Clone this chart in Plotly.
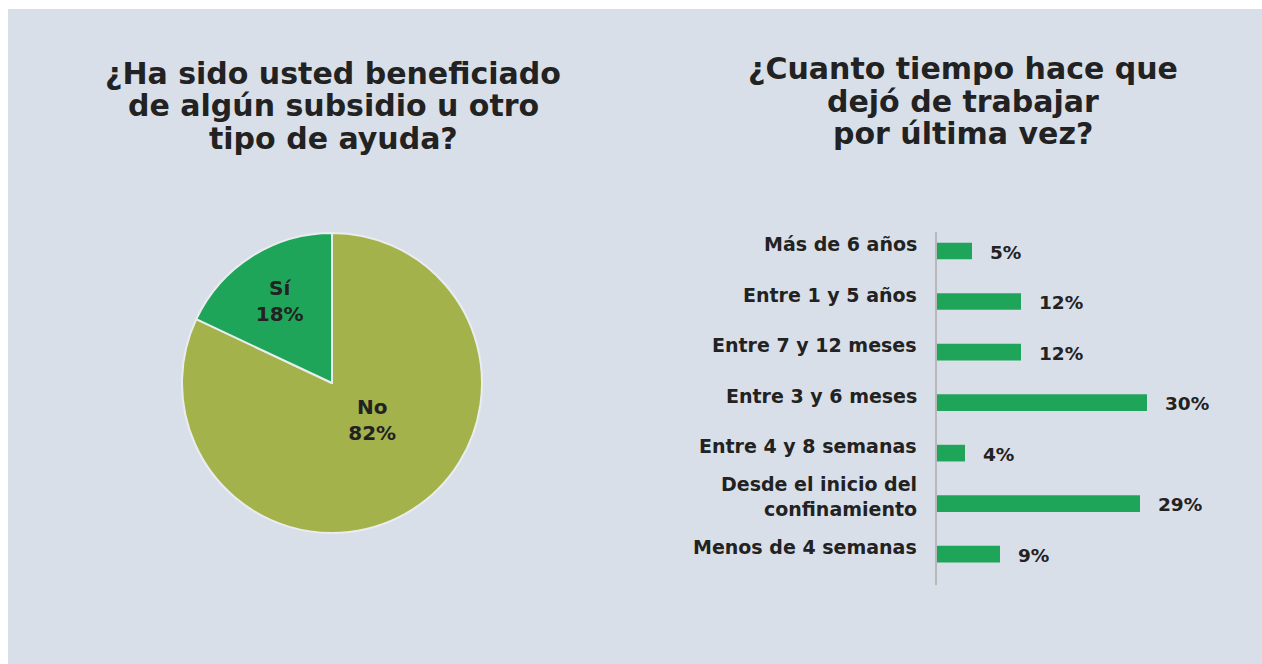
import plotly.graph_objects as go

W, H = 1262, 664

# ---- data ----
pie_labels = ["No", "Sí"]
pie_values = [82, 18]
pie_colors = ["#a3b24a", "#1fa55a"]

bar_categories = [
    "Más de 6 años",
    "Entre 1 y 5 años",
    "Entre 7 y 12 meses",
    "Entre 3 y 6 meses",
    "Entre 4 y 8 semanas",
    "Desde el inicio del<br>confinamiento",
    "Menos de 4 semanas",
]
bar_values = [5, 12, 12, 30, 4, 29, 9]

title_left = ["¿Ha sido usted beneficiado", "de algún subsidio u otro", "tipo de ayuda?"]
title_right = ["¿Cuanto tiempo hace que", "dejó de trabajar", "por última vez?"]

FONT = "DejaVu Sans"
TXT = "#222222"
BG = "#d9dfe8"

def px_x(x):
    return x / W

def px_y(y):
    return 1 - y / H

fig = go.Figure()

# pie
cx, cy, r = 332, 383, 150
fig.add_trace(go.Pie(
    labels=pie_labels, values=pie_values, sort=False, direction="clockwise", rotation=0,
    marker=dict(colors=pie_colors, line=dict(color="#e9edf0", width=2)),
    texttemplate=["<b>%{label}<br>%{percent:.0%}</b><br> <br> ", "<b>%{label}<br>%{percent:.0%}</b>"],
    insidetextorientation="horizontal", textposition="inside",
    textfont=dict(family=FONT, size=20, color=TXT),
    domain=dict(x=[px_x(cx - r), px_x(cx + r)], y=[px_y(cy + r), px_y(cy - r)]),
    showlegend=False, hoverinfo="label+percent",
))

# bars
fig.add_trace(go.Bar(
    x=bar_values, y=bar_categories, orientation="h",
    marker=dict(color="#1fa55a", line=dict(width=0)),
    width=0.33, showlegend=False, xaxis="x", yaxis="y",
))

fig.update_layout(
    width=W, height=H,
    margin=dict(l=0, r=0, t=0, b=0),
    paper_bgcolor="white", plot_bgcolor="rgba(0,0,0,0)",
    font=dict(family=FONT, color=TXT),
    xaxis=dict(domain=[px_x(937), px_x(1147)], range=[0, 30], visible=False, fixedrange=True),
    yaxis=dict(domain=[px_y(585), px_y(232)], type="category",
               categoryorder="array", categoryarray=bar_categories,
               range=[6.61, -0.376], showticklabels=False, showgrid=False, zeroline=False,
               showline=True, linecolor="#b8b8b8", linewidth=2, ticks="", anchor="x"),
    shapes=[dict(type="rect", xref="paper", yref="paper", x0=px_x(8), x1=1, y0=0, y1=px_y(9),
                 fillcolor=BG, line=dict(width=0), layer="below")],
)

ann = []
for i, line in enumerate(title_left):
    ann.append(dict(text="<b>" + line + "</b>", xref="paper", yref="paper",
                    x=px_x(333), y=px_y(73 + 33 * i), xanchor="center", yanchor="middle",
                    showarrow=False, font=dict(family=FONT, size=30, color=TXT)))
for i, line in enumerate(title_right):
    ann.append(dict(text="<b>" + line + "</b>", xref="paper", yref="paper",
                    x=px_x(963), y=px_y(69 + 32 * i), xanchor="center", yanchor="middle",
                    showarrow=False, font=dict(family=FONT, size=30, color=TXT)))

for cat, v in zip(bar_categories, bar_values):
    ann.append(dict(text="<b>" + cat + "</b>", xref="x", yref="y", x=0, y=cat,
                    xanchor="right", yanchor="middle", xshift=-18, yshift=7, showarrow=False,
                    align="right", font=dict(family=FONT, size=19, color=TXT)))
    ann.append(dict(text="<b>%d%%</b>" % v, xref="x", yref="y", x=v, y=cat,
                    xanchor="left", yanchor="middle", xshift=16, yshift=-1, showarrow=False,
                    font=dict(family=FONT, size=18.5, color=TXT)))
fig.update_layout(annotations=ann)

fig.write_html("out.html", config={"displayModeBar": False},
               post_script="document.body.style.margin='0';document.body.style.overflow='hidden';")
